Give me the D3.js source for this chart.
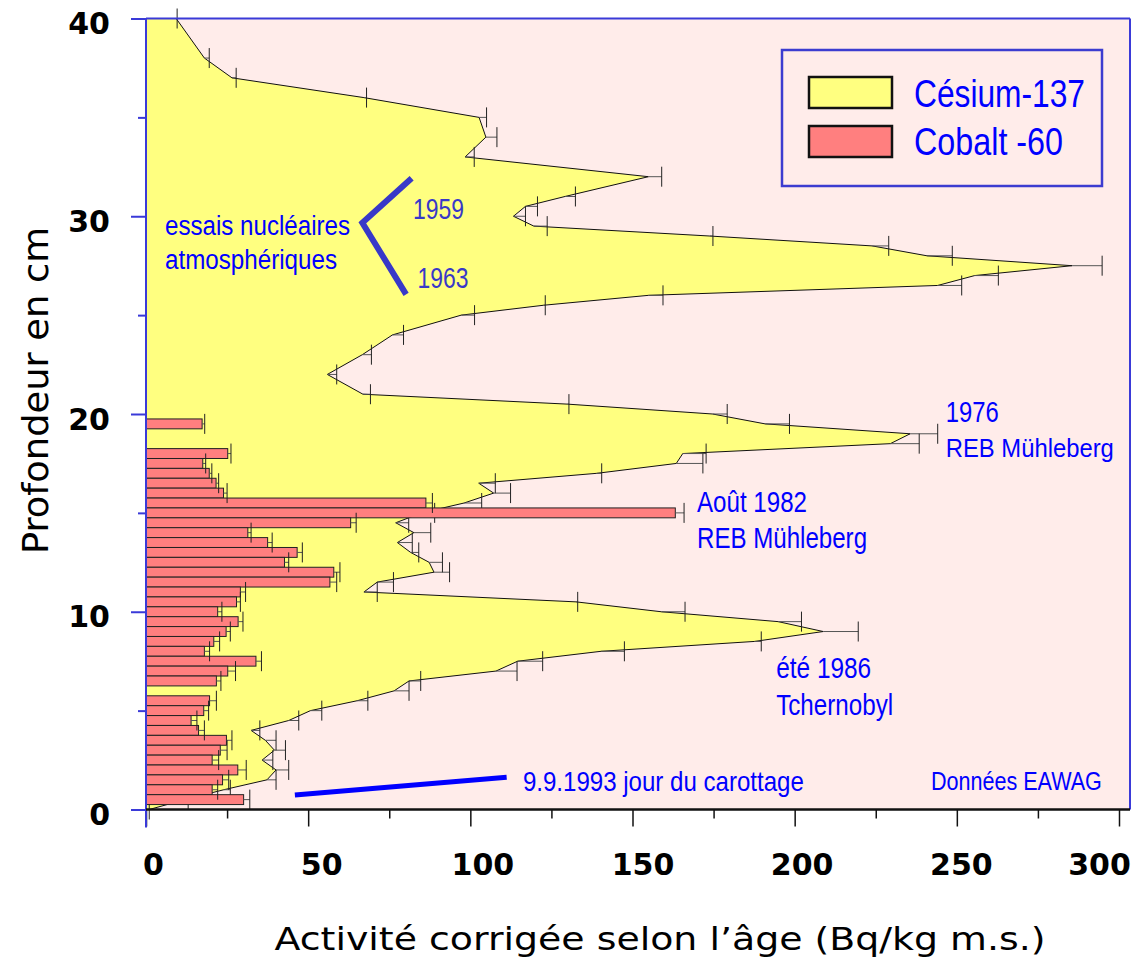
<!DOCTYPE html>
<html>
<head>
<meta charset="utf-8">
<script src="https://cdn.jsdelivr.net/npm/d3@7/dist/d3.min.js"></script>
<style>
  body { margin: 0; background: #fff; }
</style>
</head>
<body>
<div id="content"></div>
<script>
var width = 1138, height = 958;

// Césium-137 : profondeur (cm), activité (Bq/kg), erreur
var csDepth = [40, 38, 37, 36, 35, 34, 33, 32, 31, 30.5, 30, 29.5, 29, 28.5, 28, 27.5, 27, 26.5, 26, 25.5,
  25, 24, 23, 22, 21, 20.5, 20, 19.5, 19, 18.5, 18, 17.5, 17, 16.5, 16, 15.5, 15, 14.5, 14, 13.5,
  13, 12.5, 12, 11.5, 11, 10.5, 10, 9.5, 9, 8.5, 8, 7.5, 7, 6.5, 6, 5.5, 5, 4.5, 4, 3.5,
  3, 2.5, 2, 1.5, 1, 0.5, 0];
var csValue = [9.3, 18.0, 26.5, 67.2, 102.7, 104.8, 98.4, 154.9, 129.2, 117.0, 113.3, 119.6, 173.8, 223.9, 240.8, 285.5, 255.5, 244.1, 154.9, 122.6,
  97.2, 76.0, 66.7, 55.9, 66.9, 129.9, 174.7, 190.9, 235.6, 229.5, 165.5, 163.5, 139.0, 102.6, 107.2, 98.1, 85.0, 77.0, 82.6, 77.5,
  81.6, 87.3, 88.8, 71.3, 67.2, 132.6, 158.9, 194.9, 208.8, 187.7, 140.3, 114.6, 107.9, 81.1, 76.5, 65.1, 50.7, 44.0, 32.4, 36.8,
  39.6, 35.8, 40.1, 37.3, 24.0, 12.0, 1.0];
var csError = [0.3, 1.5, 1.3, 0.8, 2.3, 3.4, 2.8, 4.1, 3.2, 3.7, 3.7, 4.1, 1.0, 5.1, 7.8, 9.3, 7.3, 7.4, 4.5, 0.5,
  4.1, 3.4, 2.8, 2.9, 2.3, 0.5, 4.5, 7.5, 8.5, 8.9, 7.2, 8.2, 1.5, 5.1, 5.2, 5.4, 4.0, 4.0, 5.2, 4.6,
  2.5, 4.1, 4.8, 5.0, 4.1, 0.5, 7.3, 7.2, 10.8, 2.0, 7.2, 7.7, 6.5, 3.6, 4.6, 3.3, 3.5, 3.1, 2.7, 3.3,
  3.4, 3.3, 3.9, 2.8, 2.0, 1.0, 0];

// Cobalt-60
var coDepth = [19.5, 18, 17.5, 17, 16.5, 16, 15.5, 15, 14.5, 14, 13.5, 13, 12.5, 12, 11.5, 11, 10.5, 10,
  9.5, 9, 8.5, 8, 7.5, 7, 6.5, 5.5, 5, 4.5, 4, 3.5, 3, 2.5, 2, 1.5, 1, 0.5];
var coValue = [17.3, 25.2, 17.5, 19.5, 21.6, 23.9, 86.3, 163.2, 63.1, 31.4, 37.5, 46.6, 42.7, 57.9, 56.7, 29.1, 27.9, 22.1,
  28.4, 24.7, 20.9, 18.0, 33.9, 25.2, 21.7, 19.6, 17.8, 13.9, 16.2, 24.8, 22.9, 20.4, 28.3, 23.6, 20.4, 30.1];
var coError = [0.8, 1.0, 0.9, 0.8, 0.8, 1.1, 2.0, 2.7, 1.7, 1.0, 1.4, 1.6, 1.3, 1.9, 2.1, 1.6, 1.2, 1.3,
  1.5, 1.3, 1.8, 1.6, 1.7, 2.4, 1.4, 2.1, 1.5, 1.8, 1.8, 1.7, 2.1, 2.0, 2.6, 1.9, 1.7, 1.9];

var xTicks = [0, 50, 100, 150, 200, 250, 300];
var xMinor = [25, 75, 125, 175, 225, 275];
var yTicks = [0, 10, 20, 30, 40];
var yMinor = [5, 15, 25, 35];
var xLabelShift = [7, 13, 12, 10, 7, 4, -20];

var seriesNames = ["Césium-137", "Cobalt -60"];
var yellow = "#ffff80", red = "#ff7f7f", pink = "#ffecea";

var svg = d3.select("#content").append("svg")
  .attr("width", width)
  .attr("height", height)
  .style("font-family", "'Liberation Sans', Arial, sans-serif");

var x = d3.scaleLinear().domain([0, 300]).range([146, 1119]);
var y = d3.scaleLinear().domain([0, 40]).range([809.5, 18.5]);
var plotRight = 1130;

var cs = csDepth.map(function (d, i) { return { d: d, v: csValue[i], e: csError[i] }; });
var co = coDepth.map(function (d, i) { return { d: d, v: coValue[i], e: coError[i] }; });

// fond
svg.append("rect")
  .attr("x", x(0)).attr("y", y(40))
  .attr("width", plotRight - x(0)).attr("height", y(0) - y(40))
  .attr("fill", pink);

// surface Cs-137
var area = d3.area()
  .y(function (d) { return y(d.d); })
  .x0(x(0))
  .x1(function (d) { return x(d.v); });
svg.append("path").datum(cs)
  .attr("d", area)
  .attr("fill", yellow);
svg.append("path").datum(cs)
  .attr("d", d3.line().x(function (d) { return x(d.v); }).y(function (d) { return y(d.d); }))
  .attr("fill", "none")
  .attr("stroke", "#111")
  .attr("stroke-width", 1);

function errorBars(data, cls) {
  var g = svg.append("g").attr("class", cls);
  g.selectAll("line.err").data(data).enter().append("line")
    .attr("x1", function (d) { return x(d.v); })
    .attr("x2", function (d) { return x(d.v + d.e); })
    .attr("y1", function (d) { return y(d.d); })
    .attr("y2", function (d) { return y(d.d); })
    .attr("stroke", "#555").attr("stroke-width", 1);
  g.selectAll("line.cap").data(data).enter().append("line")
    .attr("x1", function (d) { return x(d.v + d.e); })
    .attr("x2", function (d) { return x(d.v + d.e); })
    .attr("y1", function (d) { return y(d.d) - 10; })
    .attr("y2", function (d) { return y(d.d) + 10; })
    .attr("stroke", "#222").attr("stroke-width", 1);
}
errorBars(cs, "cs-err");

// barres Co-60
svg.append("g").selectAll("rect").data(co).enter().append("rect")
  .attr("x", x(0))
  .attr("y", function (d) { return y(d.d + 0.25); })
  .attr("width", function (d) { return x(d.v) - x(0); })
  .attr("height", function (d) { return y(d.d - 0.25) - y(d.d + 0.25); })
  .attr("fill", red)
  .attr("stroke", "#222")
  .attr("stroke-width", 1);
errorBars(co, "co-err");

// annotations
var bracket = [[81.9, 31.92], [66.7, 29.67], [80.2, 26.05]];
svg.append("path").datum(bracket)
  .attr("d", d3.line().x(function (d) { return x(d[0]); }).y(function (d) { return y(d[1]); }))
  .attr("fill", "none").attr("stroke", "#3838c8").attr("stroke-width", 6);

var coringLine = [[45.9, 0.73], [111.2, 1.63]];
svg.append("path").datum(coringLine)
  .attr("d", d3.line().x(function (d) { return x(d[0]); }).y(function (d) { return y(d[1]); }))
  .attr("fill", "none").attr("stroke", "#0000ff").attr("stroke-width", 5);

var notes = [
  { t: "essais nucléaires", v: 5.86, d: 29.05, w: 185, s: 27, c: "#0000ff" },
  { t: "atmosphériques", v: 5.86, d: 27.33, w: 172, s: 27, c: "#0000ff" },
  { t: "1959", v: 82.3, d: 29.86, w: 51, s: 29, c: "#3838c8" },
  { t: "1963", v: 83.7, d: 26.37, w: 51, s: 29, c: "#3838c8" },
  { t: "1976", v: 246.6, d: 19.6, w: 53, s: 29, c: "#0000ff" },
  { t: "REB Mühleberg", v: 246.6, d: 17.83, w: 168, s: 25, c: "#0000ff" },
  { t: "Août 1982", v: 169.9, d: 15.04, w: 110, s: 30, c: "#0000ff" },
  { t: "REB Mühleberg", v: 169.9, d: 13.22, w: 170, s: 29, c: "#0000ff" },
  { t: "été 1986", v: 194.3, d: 6.65, w: 95, s: 29, c: "#0000ff" },
  { t: "Tchernobyl", v: 194.3, d: 4.78, w: 117, s: 29, c: "#0000ff" },
  { t: "9.9.1993 jour du carottage", v: 116.2, d: 0.94, w: 281, s: 28, c: "#0000ff" },
  { t: "Données EAWAG", v: 242.0, d: 0.99, w: 171, s: 26, c: "#0000ff" }
];
svg.append("g").selectAll("text").data(notes).enter().append("text")
  .attr("x", function (d) { return x(d.v); })
  .attr("y", function (d) { return y(d.d); })
  .attr("font-size", function (d) { return d.s; })
  .attr("fill", function (d) { return d.c; })
  .attr("textLength", function (d) { return d.w; })
  .attr("lengthAdjust", "spacingAndGlyphs")
  .text(function (d) { return d.t; });

// axes
var yAxis = svg.append("g")
  .attr("transform", "translate(" + x(0) + ",0)")
  .call(d3.axisLeft(y).tickValues(yTicks).tickSize(15).tickPadding(21));
yAxis.select(".domain").remove();
yAxis.selectAll(".tick line").attr("stroke", "#3a3ad8").attr("stroke-width", 2);
yAxis.selectAll(".tick text")
  .attr("dy", "0.5em")
  .style("font-family", "'DejaVu Sans', Verdana, sans-serif")
  .style("font-weight", "bold")
  .style("font-size", "30px")
  .attr("fill", "#000");

var yAxisMinor = svg.append("g")
  .attr("transform", "translate(" + x(0) + ",0)")
  .call(d3.axisLeft(y).tickValues(yMinor).tickSize(8).tickFormat(""));
yAxisMinor.select(".domain").remove();
yAxisMinor.selectAll(".tick line").attr("stroke", "#3a3ad8").attr("stroke-width", 2);

var xAxis = svg.append("g")
  .attr("transform", "translate(0," + y(0) + ")")
  .call(d3.axisBottom(x).tickValues(xTicks).tickSize(17).tickPadding(27));
xAxis.select(".domain").remove();
xAxis.selectAll(".tick line").attr("stroke", "#111").attr("stroke-width", 1.5);
xAxis.selectAll(".tick text")
  .attr("dx", function (d, i) { return xLabelShift[i]; })
  .style("font-family", "'DejaVu Sans', Verdana, sans-serif")
  .style("font-weight", "bold")
  .style("font-size", "30px")
  .attr("fill", "#000");

var xAxisMinor = svg.append("g")
  .attr("transform", "translate(0," + y(0) + ")")
  .call(d3.axisBottom(x).tickValues(xMinor).tickSize(9).tickFormat(""));
xAxisMinor.select(".domain").remove();
xAxisMinor.selectAll(".tick line").attr("stroke", "#111").attr("stroke-width", 1.5);

// cadre
svg.append("line").attr("x1", x(0)).attr("x2", plotRight).attr("y1", y(40)).attr("y2", y(40))
  .attr("stroke", "#3a3ad8").attr("stroke-width", 2);
svg.append("line").attr("x1", plotRight).attr("x2", plotRight).attr("y1", y(40)).attr("y2", y(0))
  .attr("stroke", "#3a3ad8").attr("stroke-width", 2);
svg.append("line").attr("x1", x(0)).attr("x2", x(0)).attr("y1", y(40)).attr("y2", y(0) + 18)
  .attr("stroke", "#3a3ad8").attr("stroke-width", 2);
svg.append("line").attr("x1", x(0)).attr("x2", plotRight).attr("y1", y(0)).attr("y2", y(0))
  .attr("stroke", "#111").attr("stroke-width", 2.5);

// titres
svg.append("text")
  .attr("x", 660).attr("y", 950)
  .attr("text-anchor", "middle")
  .style("font-family", "'DejaVu Sans', Verdana, sans-serif")
  .style("font-size", "32px")
  .attr("textLength", 771)
  .attr("lengthAdjust", "spacingAndGlyphs")
  .text("Activité corrigée selon l’âge (Bq/kg m.s.)");

svg.append("text")
  .attr("transform", "translate(48,390.5) rotate(-90)")
  .attr("text-anchor", "middle")
  .style("font-family", "'DejaVu Sans', Verdana, sans-serif")
  .style("font-size", "36px")
  .attr("textLength", 327)
  .attr("lengthAdjust", "spacingAndGlyphs")
  .text("Profondeur en cm");

// légende
var legend = svg.append("g");
legend.append("rect")
  .attr("x", 782).attr("y", 50).attr("width", 320).attr("height", 136)
  .attr("fill", pink).attr("stroke", "#3c3cd0").attr("stroke-width", 2.5);
var legendColors = [yellow, red];
var legendWidths = [171, 149];
seriesNames.forEach(function (name, i) {
  legend.append("rect")
    .attr("x", 809).attr("y", 77 + i * 49).attr("width", 83).attr("height", 31)
    .attr("fill", legendColors[i]).attr("stroke", "#111").attr("stroke-width", 2.5);
  legend.append("text")
    .attr("x", 914).attr("y", 106.5 + i * 48.5)
    .attr("font-size", 38)
    .attr("fill", "#0000ff")
    .attr("textLength", legendWidths[i])
    .attr("lengthAdjust", "spacingAndGlyphs")
    .text(name);
});
</script>
</body>
</html>
